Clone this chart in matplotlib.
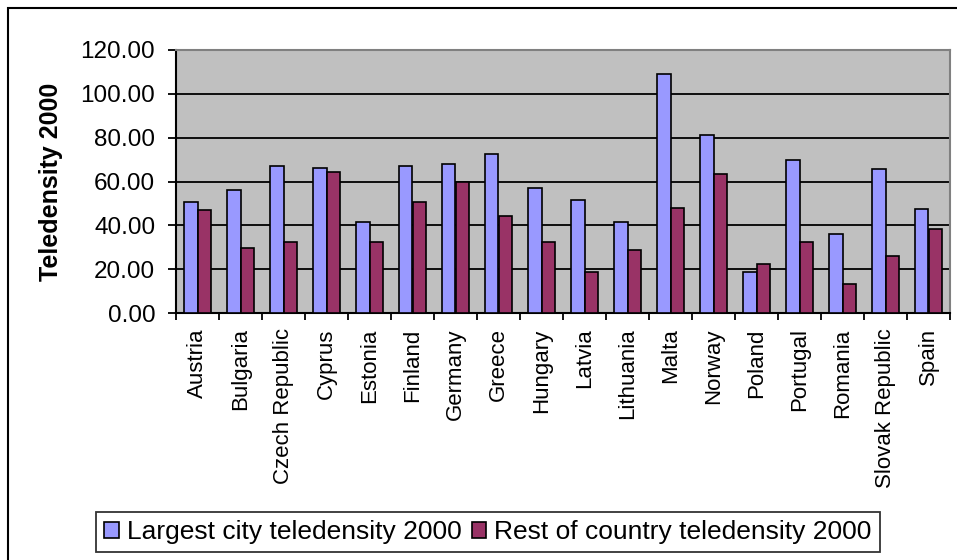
import matplotlib
matplotlib.use("Agg")
import matplotlib.pyplot as plt
import numpy as np
from matplotlib.patches import Rectangle

countries = ["Austria", "Bulgaria", "Czech Republic", "Cyprus", "Estonia", "Finland",
             "Germany", "Greece", "Hungary", "Latvia", "Lithuania", "Malta", "Norway",
             "Poland", "Portugal", "Romania", "Slovak Republic", "Spain"]
largest_city = [50.6, 56.1, 67.0, 66.1, 41.5, 67.0, 67.9, 72.4, 57.0, 51.5, 41.5,
                108.9, 81.4, 18.8, 69.7, 36.1, 65.8, 47.4]
rest_country = [47.0, 29.7, 32.6, 64.2, 32.6, 50.6, 59.7, 44.2, 32.6, 18.8, 28.9,
                47.9, 63.3, 22.4, 32.6, 13.3, 26.0, 38.3]
series_names = ["Largest city teledensity 2000", "Rest of country teledensity 2000"]
yticks = [0, 20, 40, 60, 80, 100, 120]

plt.rcParams['font.family'] = ['Liberation Sans', 'DejaVu Sans']

W, H = 957, 560
fig = plt.figure(figsize=(W / 100, H / 100), dpi=100)
fig.patch.set_facecolor("white")

# outer chart border (cropped at right/bottom)
fig.patches.append(Rectangle((8 / W, -0.2), 2.0, 1 - 8 / H + 0.2, transform=fig.transFigure,
                             fill=False, edgecolor="black", linewidth=1.5, zorder=0))

left, right, top, bottom = 176, 950, 50, 313
ax = fig.add_axes([left / W, 1 - bottom / H, (right - left) / W, (bottom - top) / H])
ax.set_facecolor("#C0C0C0")

x = np.arange(len(countries))
bw = 0.31
ax.bar(x - bw / 2, largest_city, bw, color="#9999FF", edgecolor="black", linewidth=1.2,
       label=series_names[0], zorder=3)
ax.bar(x + bw / 2, rest_country, bw, color="#993366", edgecolor="black", linewidth=1.2,
       label=series_names[1], zorder=3)

ax.set_xlim(-0.5, len(countries) - 0.5)
ax.set_ylim(0, 120)
ax.set_yticks(yticks)
ax.set_yticklabels([f"{v:.2f}" for v in yticks])
ax.yaxis.grid(True, color="black", linewidth=1.3, zorder=1)
ax.set_axisbelow(True)

ax.set_xticks(x)
ax.set_xticklabels(countries, rotation=90, va="top", ha="center")
ax.set_xticks(np.arange(len(countries) + 1) - 0.5, minor=True)
ax.tick_params(axis="x", which="major", length=0, pad=11, labelsize=16)
ax.tick_params(axis="x", which="minor", length=5, width=1.3, direction="out")
ax.tick_params(axis="y", which="major", length=6, width=1.3, direction="out", pad=9, labelsize=17.5)

for s in ["left", "bottom"]:
    ax.spines[s].set_color("black")
    ax.spines[s].set_linewidth(1.5)
for s in ["top", "right"]:
    ax.spines[s].set_color("#808080")
    ax.spines[s].set_linewidth(1.5)

ax.set_ylabel("Teledensity 2000", fontsize=18, fontweight="bold")
ax.yaxis.set_label_coords((63 - left) / (right - left), 0.5)

leg = fig.legend(loc="center", bbox_to_anchor=(488 / W, 1 - 532 / H), ncol=2,
                 fontsize=19, frameon=True, fancybox=False, edgecolor="black",
                 handlelength=0.55, handleheight=0.55, handletextpad=0.3,
                 columnspacing=0.4, borderpad=0.3, borderaxespad=0)
leg.get_frame().set_linewidth(1.3)
for h in leg.legend_handles:
    h.set_linewidth(1.2)

fig.savefig("out.png", dpi=100)
